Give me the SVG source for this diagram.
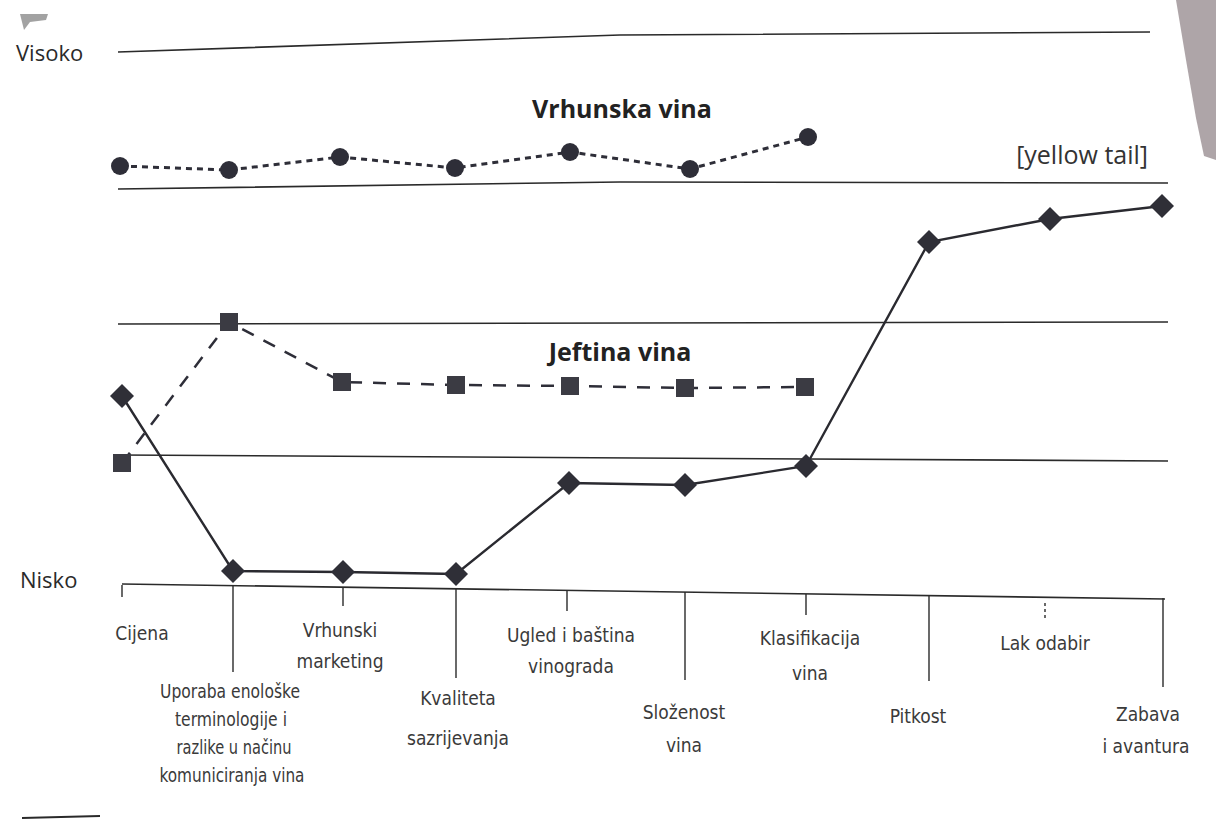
<svg xmlns="http://www.w3.org/2000/svg" width="1216" height="822" viewBox="0 0 1216 822">
<defs>
<style>
.grid{stroke:#2a2a2a;stroke-width:1.6;fill:none}
.tick{stroke:#2a2a2a;stroke-width:1.4}
.lbl{font-family:"DejaVu Sans Condensed","DejaVu Sans",sans-serif;font-stretch:condensed;font-size:19px;fill:#3a3a3a;text-anchor:middle}
.axis{font-family:"Open Sans","DejaVu Sans",sans-serif;font-size:22px;fill:#2a2a2a}
.title{font-family:"Open Sans","DejaVu Sans",sans-serif;font-size:25px;font-weight:bold;fill:#222;text-anchor:middle}
.circ{fill:#2e2e38}
.sq{fill:#3b3b43}
.dia{fill:#2f2f37}
.dot{stroke:#2e2e38;stroke-width:3;stroke-dasharray:6 5;fill:none}
.dash{stroke:#2e2e38;stroke-width:2.5;stroke-dasharray:13 11;fill:none}
.solid{stroke:#2a2a30;stroke-width:2.4;fill:none}
</style>
</defs>
<rect width="1216" height="822" fill="#ffffff"/>
<!-- scan artifacts -->
<path d="M1176 0 L1216 0 L1216 160 L1204 156 L1196 118 L1186 60 Z" fill="#9a8f92" opacity="0.8"/>
<path d="M20 14 L48 14 L46 20 L30 22 L24 30 Z" fill="#7a7a7a" opacity="0.7"/>
<line x1="22" y1="818" x2="100" y2="816" stroke="#2a2a2a" stroke-width="2"/>
<!-- grid lines -->
<g id="grid">
<path class="grid" d="M118 52 L620 35 L1150 32"/>
<path class="grid" d="M118 189 L620 182 L1168 183"/>
<path class="grid" d="M118 324 L1168 322"/>
<path class="grid" d="M118 455 L1168 461"/>
<path class="grid" d="M122 584 L1165 599"/>
</g>
<g id="ticks">
<line class="tick" x1="122" y1="585" x2="122" y2="597"/>
<line class="tick" x1="233" y1="586" x2="233" y2="672"/>
<line class="tick" x1="343" y1="587" x2="343" y2="606"/>
<line class="tick" x1="456" y1="589" x2="456" y2="678"/>
<line class="tick" x1="567" y1="590" x2="567" y2="611"/>
<line class="tick" x1="685" y1="592" x2="685" y2="680"/>
<line class="tick" x1="806" y1="594" x2="806" y2="615"/>
<line class="tick" x1="929" y1="596" x2="929" y2="681"/>
<line class="tick" x1="1045" y1="603" x2="1045" y2="620" stroke-dasharray="3 3"/>
<line class="tick" x1="1163" y1="598" x2="1163" y2="687"/>
</g>
<!-- axis labels -->
<text class="axis" x="16" y="61">Visoko</text>
<text class="axis" x="20" y="588">Nisko</text>
<text class="title" x="622" y="118">Vrhunska vina</text>
<text class="title" x="620" y="361">Jeftina vina</text>
<text x="1148" y="164" font-family="'Open Sans','DejaVu Sans',sans-serif" font-size="25" fill="#333" text-anchor="end">[yellow tail]</text>
<!-- connectors -->
<g id="connectors">
<polyline class="dot" points="120,166 229,170 340,157 455,168 570,152 690,169 808,137"/>
<polyline class="dash" points="122,463 229,322 342,382 456,385 570,386 685,388 805,387"/>
<polyline class="solid" points="122,396 233,571 343,572 456,574 569,483 685,485 806,466 929,242 1050,219 1162,206"/>
</g>
<!-- Vrhunska vina nodes -->
<g id="v1"><circle class="circ" cx="120" cy="166" r="9"/></g>
<g id="v2"><circle class="circ" cx="229" cy="170" r="9"/></g>
<g id="v3"><circle class="circ" cx="340" cy="157" r="9"/></g>
<g id="v4"><circle class="circ" cx="455" cy="168" r="9"/></g>
<g id="v5"><circle class="circ" cx="570" cy="152" r="9"/></g>
<g id="v6"><circle class="circ" cx="690" cy="169" r="9"/></g>
<g id="v7"><circle class="circ" cx="808" cy="137" r="9"/></g>
<!-- Jeftina vina nodes -->
<g id="j1"><rect class="sq" x="113" y="454" width="18" height="18"/></g>
<g id="j2"><rect class="sq" x="220" y="313" width="18" height="18"/></g>
<g id="j3"><rect class="sq" x="333" y="373" width="18" height="18"/></g>
<g id="j4"><rect class="sq" x="447" y="376" width="18" height="18"/></g>
<g id="j5"><rect class="sq" x="561" y="377" width="18" height="18"/></g>
<g id="j6"><rect class="sq" x="676" y="379" width="18" height="18"/></g>
<g id="j7"><rect class="sq" x="796" y="378" width="18" height="18"/></g>
<!-- yellow tail nodes -->
<g id="y1"><polygon class="dia" points="122,384 134,396 122,408 110,396"/></g>
<g id="y2"><polygon class="dia" points="233,559 245,571 233,583 221,571"/></g>
<g id="y3"><polygon class="dia" points="343,560 355,572 343,584 331,572"/></g>
<g id="y4"><polygon class="dia" points="456,562 468,574 456,586 444,574"/></g>
<g id="y5"><polygon class="dia" points="569,471 581,483 569,495 557,483"/></g>
<g id="y6"><polygon class="dia" points="685,473 697,485 685,497 673,485"/></g>
<g id="y7"><polygon class="dia" points="806,454 818,466 806,478 794,466"/></g>
<g id="y8"><polygon class="dia" points="929,230 941,242 929,254 917,242"/></g>
<g id="y9"><polygon class="dia" points="1050,207 1062,219 1050,231 1038,219"/></g>
<g id="y10"><polygon class="dia" points="1162,194 1174,206 1162,218 1150,206"/></g>
<!-- factor labels -->
<g id="f1"><text class="lbl" x="142" y="640">Cijena</text></g>
<g id="f2"><text class="lbl" x="230" y="698" textLength="140" lengthAdjust="spacingAndGlyphs">Uporaba enološke</text><text class="lbl" x="231" y="726" textLength="112" lengthAdjust="spacingAndGlyphs">terminologije i</text><text class="lbl" x="234" y="754" textLength="115" lengthAdjust="spacingAndGlyphs">razlike u načinu</text><text class="lbl" x="232" y="782" textLength="145" lengthAdjust="spacingAndGlyphs">komuniciranja vina</text></g>
<g id="f3"><text class="lbl" x="340" y="637">Vrhunski</text><text class="lbl" x="340" y="668">marketing</text></g>
<g id="f4"><text class="lbl" x="458" y="705">Kvaliteta</text><text class="lbl" x="458" y="745">sazrijevanja</text></g>
<g id="f5"><text class="lbl" x="571" y="642">Ugled i baština</text><text class="lbl" x="571" y="673">vinograda</text></g>
<g id="f6"><text class="lbl" x="684" y="719">Složenost</text><text class="lbl" x="684" y="752">vina</text></g>
<g id="f7"><text class="lbl" x="810" y="645">Klasifikacija</text><text class="lbl" x="810" y="680">vina</text></g>
<g id="f8"><text class="lbl" x="918" y="723">Pitkost</text></g>
<g id="f9"><text class="lbl" x="1045" y="650">Lak odabir</text></g>
<g id="f10"><text class="lbl" x="1148" y="721">Zabava</text><text class="lbl" x="1146" y="753">i avantura</text></g>
</svg>
